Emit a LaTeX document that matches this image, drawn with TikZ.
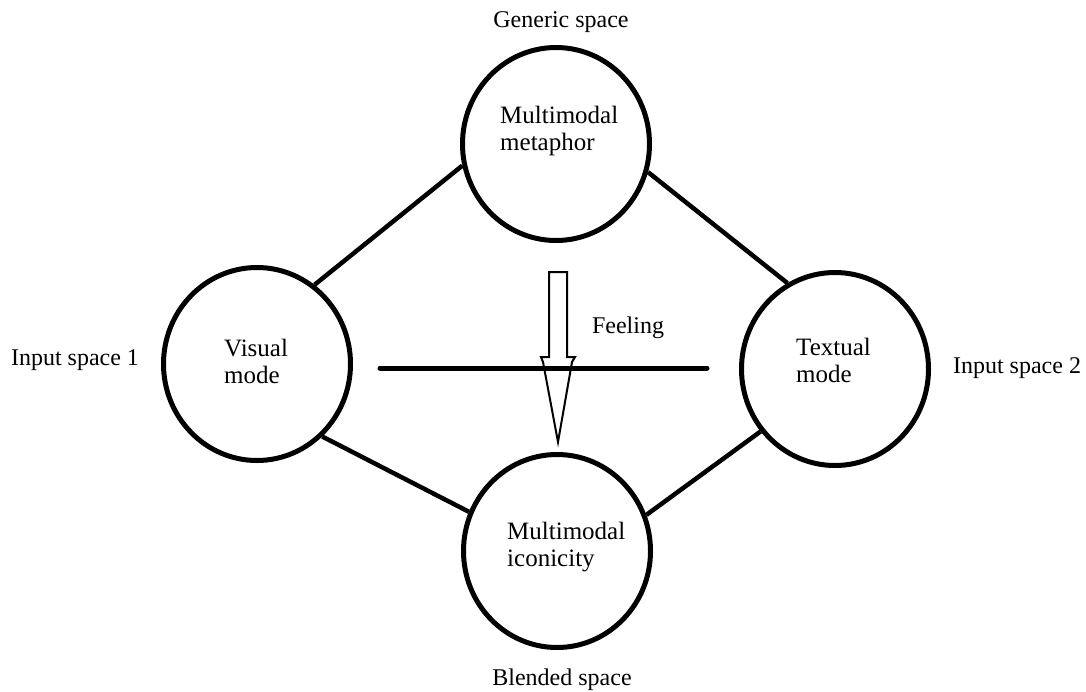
\documentclass[tikz,border=0pt]{standalone}
\usepackage{fontspec}
\setmainfont{Liberation Serif}
\usetikzlibrary{shapes.geometric}
\begin{document}
\begin{tikzpicture}[x=1pt,y=-1pt,
  space/.style={draw,ellipse,line width=5pt,minimum width=187pt,minimum height=193pt,inner sep=0pt},
  link/.style={line width=4.5pt},
  lbl/.style={inner sep=0pt,font=\fontsize{24}{27}\selectfont},
  inlbl/.style={inner sep=0pt,font=\fontsize{25}{27}\selectfont,align=left,anchor=west}]
\useasboundingbox (0,0) rectangle (1086,691);
\node[space] (top) at (556,144) {};
\node[space] (left) at (257,364) {};
\node[space] (right) at (835,369) {};
\node[space] (bot) at (557,551) {};
\draw[link] (left.54) -- (top.193);
\draw[link] (top.-17) -- (right.119);
\draw[link] (left.-48) -- (bot.156);
\draw[link] (bot.22) -- (right.-140);
% arrow
\draw[line width=2pt,line join=miter] (549,272) -- (567,272) -- (567,357) -- (575,357) -- (572,362) -- (558,442) -- (543,362) -- (541,357) -- (549,357) -- cycle;
\coordinate (h1) at (380,368);
\coordinate (h2) at (707,368);
\draw[line width=5pt,line cap=round] (h1) -- (h2);
\node[inlbl] (tt) at (500,131) {Multimodal\\metaphor};
\node[inlbl] (lt) at (224,361) {Visual\\mode};
\node[inlbl] (rt) at (796,360) {Textual\\mode};
\node[inlbl] (bt) at (507,547) {Multimodal\\iconicity};
\node[lbl,anchor=base] (g) at (561,27) {Generic space};
\node[lbl,anchor=base] (i1) at (75,365) {Input space 1};
\node[lbl,anchor=base] (i2) at (1017,373) {Input space 2};
\node[lbl,anchor=base] (b) at (562,685) {Blended space};
\node[lbl,anchor=base] (f) at (628,333) {Feeling};
\end{tikzpicture}
\end{document}
